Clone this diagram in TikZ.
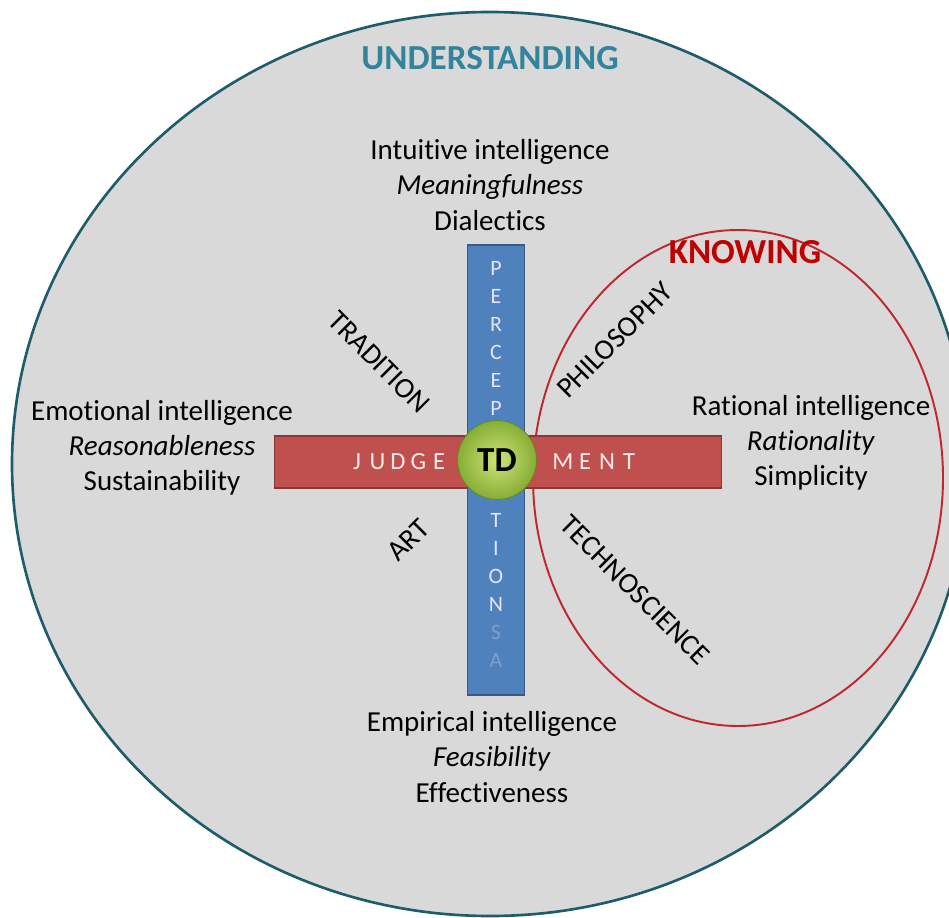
\documentclass[tikz,border=0pt]{standalone}
\usepackage{fontspec}
\setmainfont[Ligatures=NoCommon]{Carlito}
\usetikzlibrary{positioning, shapes.geometric}
\definecolor{circlegray}{HTML}{D9D9D9}
\definecolor{tealline}{HTML}{1F5C6B}
\definecolor{tealtext}{HTML}{31849B}
\definecolor{barblue}{HTML}{4F81BD}
\definecolor{barred}{HTML}{C0504D}
\definecolor{knowred}{HTML}{C00000}
\definecolor{ringred}{HTML}{C0272D}
\definecolor{balllight}{HTML}{CDE37A}
\definecolor{balldark}{HTML}{86AE34}
\tikzset{
	label/.style={font=\fontsize{16.5}{20}\selectfont, align=center, inner sep=0pt}, % the three-line texts
	side/.style={font=\fontsize{16.5}{16.5}\selectfont, inner sep=0pt}, % the slanted words
	title/.style={font=\fontsize{20}{20}\selectfont\bfseries, inner sep=0pt}, % UNDERSTANDING and KNOWING
	hletter/.style={font=\fontsize{14}{14}\selectfont, text=red!8!white, inner sep=0pt}, % letters on the red bar
	vletter/.style={font=\fontsize{12.5}{12.5}\selectfont, text=blue!10!white, inner sep=0pt}, % letters on the blue bar
	bar/.style={rectangle, inner sep=0pt, line width=0.8pt}, % the two bars
}

\begin{document}
\begin{tikzpicture}[x=0.02cm, y=-0.02cm]
			\useasboundingbox (0,0) rectangle (949,918);
			% the two rings
			\draw[tealline, line width=1.5pt, fill=circlegray] (490,464) ellipse [x radius=478, y radius=452];
			\draw[ringred, line width=1.1pt] (738,478) ellipse [x radius=205, y radius=248];

			\node[title, text=tealtext] (under) at (490,58) {UNDERSTANDING};
			\node[title, text=knowred] (know) at (745,252) {KNOWING};

			% bars and the ball
			\node[bar, draw=barred!70!black, fill=barred, minimum width=8.94cm, minimum height=1.04cm] (judg) at (498,462) {};
			\node[bar, draw=barblue!70!black, fill=barblue, minimum width=1.14cm, minimum height=9cm] (perc) at (496,470) {};
			\foreach \l [count=\i from 0] in {J,U,D,G,E}
				\node[hletter] at (357+20.5*\i,462) {\l};
			\foreach \l [count=\i from 0] in {M,E,N,T}
				\node[hletter] at (563+22*\i,462) {\l};
			\foreach \l [count=\i from 0] in {P,E,R,C,E,P}
				\node[vletter] at (496,268+28*\i) {\l};
			\foreach \l [count=\i from 0] in {T,I,O,N}
				\node[vletter] at (496,520+28*\i) {\l};
			\foreach \l [count=\i from 4] in {S,A}
				\node[vletter, text=barblue!75!white] at (496,520+28*\i) {\l};
			\node[circle, draw=balldark!75!black, inner sep=0pt, minimum size=1.58cm,
				inner color=balllight, outer color=balldark,
				font=\fontsize{20}{20}\selectfont\bfseries] (td) at (497,460) {TD};

			% the four intelligences
			\node[label] (intu) at (490,185) {Intuitive intelligence\\ \textit{Meaningfulness}\\ Dialectics};
			\node[label] (emot) at (162,448) {Emotional intelligence\\ \textit{Reasonableness}\\ Sustainability};
			\node[label] (rati) at (811,443) {Rational intelligence\\ \textit{Rationality}\\ Simplicity};
			\node[label] (empi) at (492,757) {Empirical intelligence\\ \textit{Feasibility}\\ Effectiveness};

			% slanted words
			\node[side, rotate=-45] (trad) at (379,362) {TRADITION};
			\node[side, rotate=45] (art) at (408,540) {ART};
			\node[side, rotate=45] (phil) at (615,340) {PHILOSOPHY};
			\node[side, rotate=-45] (tech) at (635,590) {TECHNOSCIENCE};
		\end{tikzpicture}
\end{document}
